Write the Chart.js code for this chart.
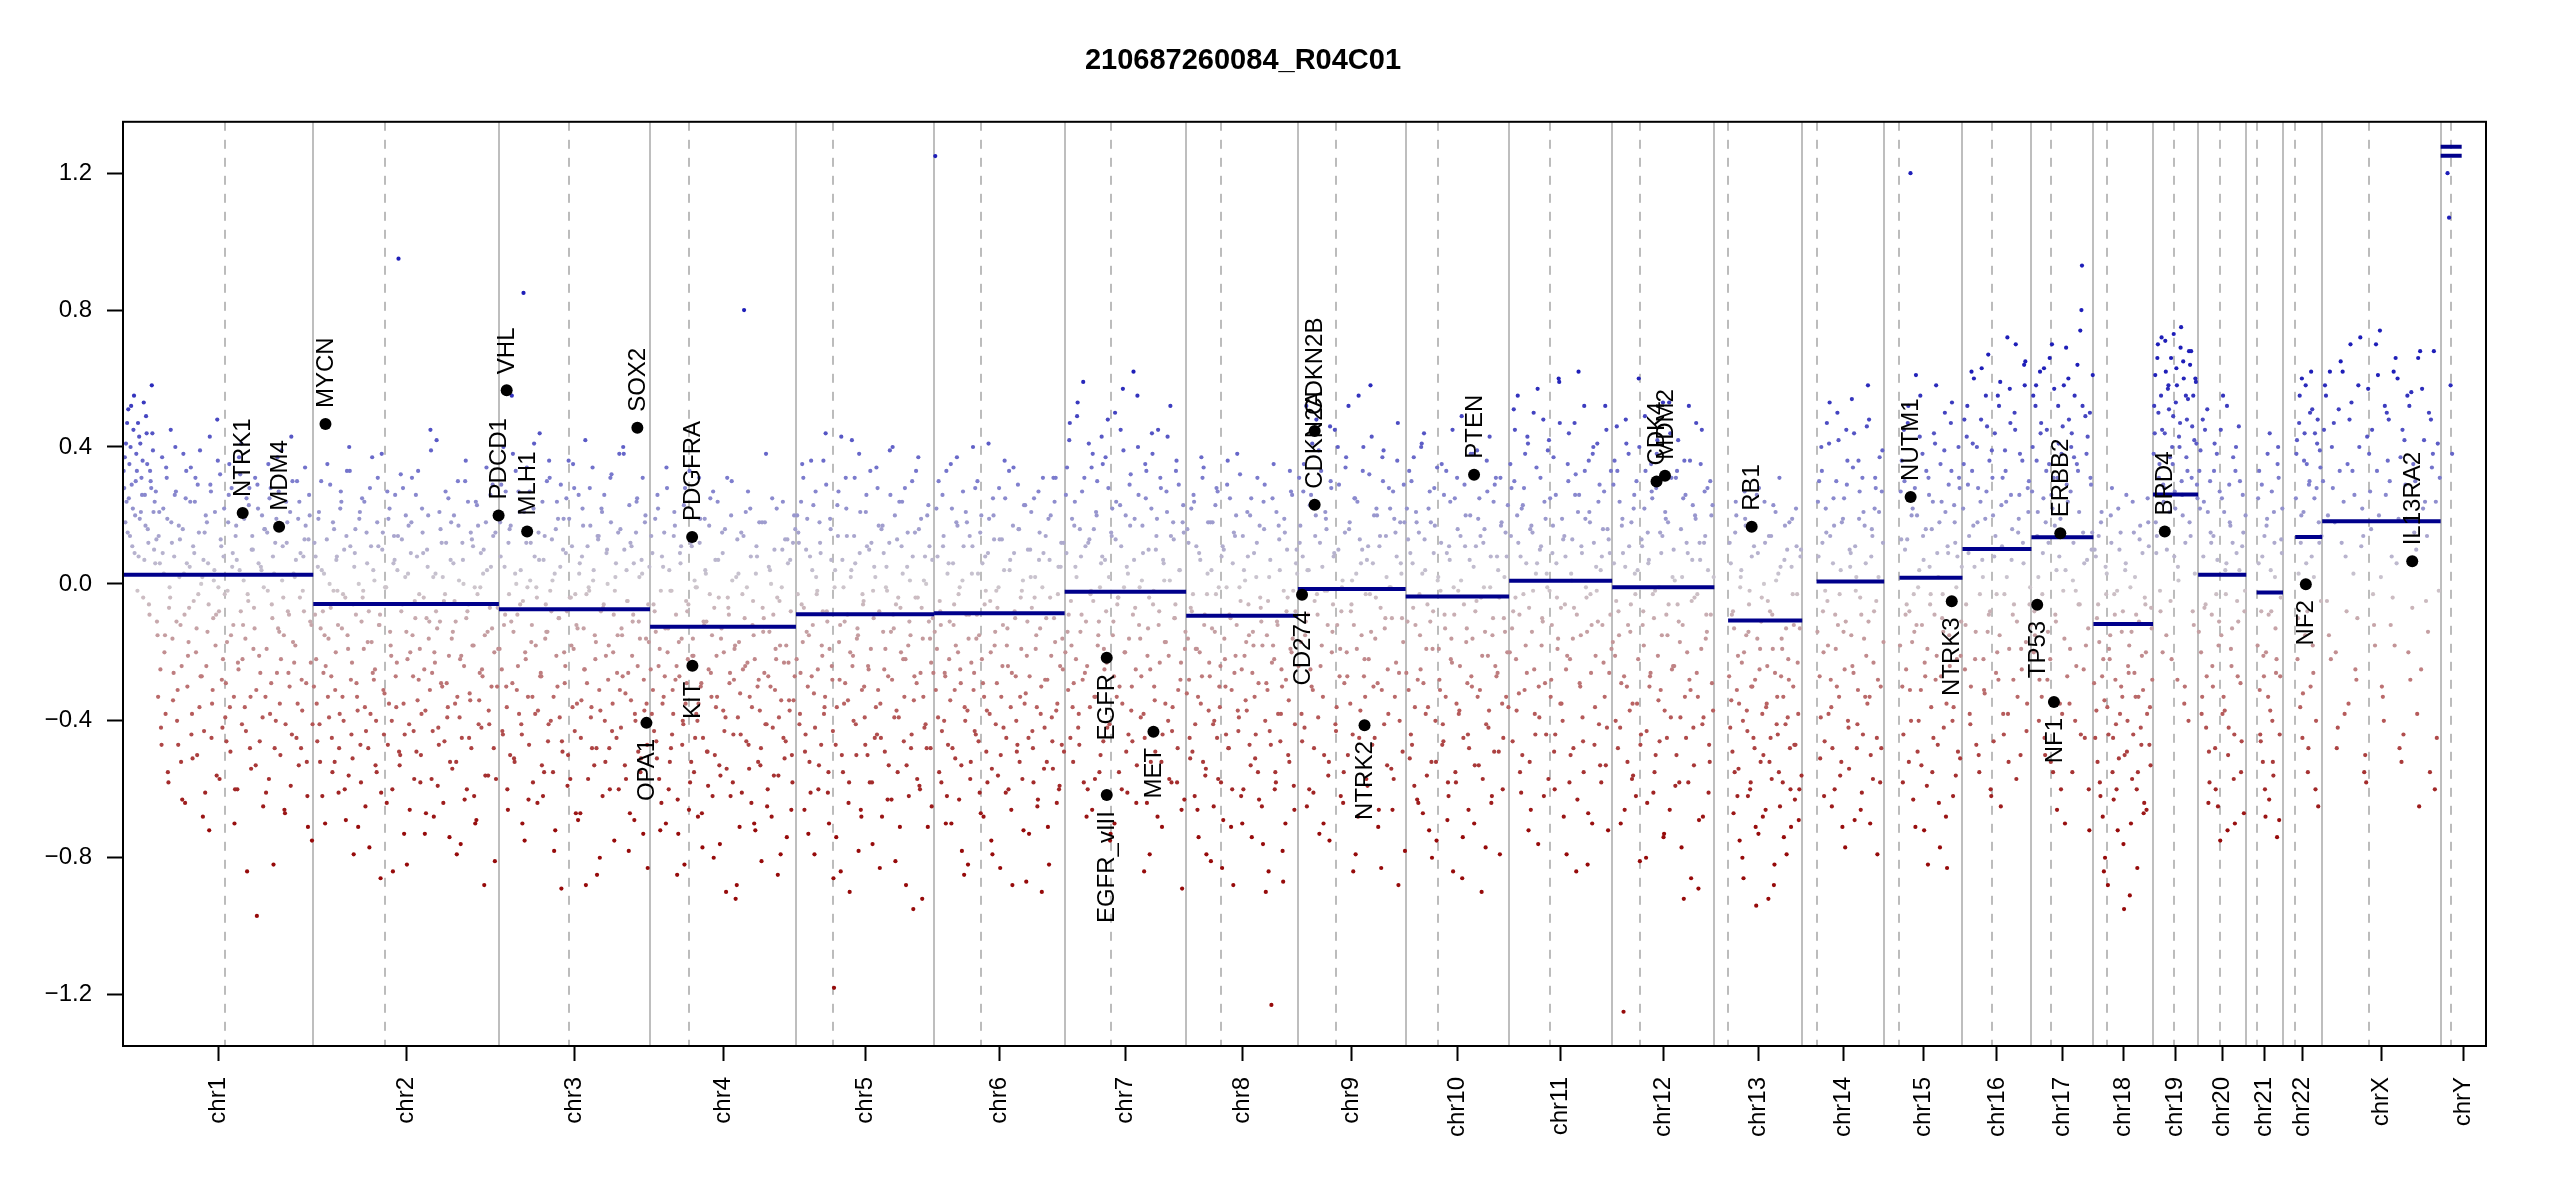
<!DOCTYPE html>
<html>
<head>
<meta charset="utf-8">
<title>210687260084_R04C01</title>
<script src="https://cdn.jsdelivr.net/npm/chart.js@4.4.1/dist/chart.umd.min.js"></script>
<style>
html,body{margin:0;padding:0;background:#fff;}
#wrap{width:2550px;height:1200px;}
</style>
</head>
<body>
<div id="wrap"><canvas id="c" width="2550" height="1200"></canvas></div>
<script>
// ---------- DATA ----------
const chartTitle = '210687260084_R04C01';
const chromNames = ['chr1','chr2','chr3','chr4','chr5','chr6','chr7','chr8','chr9','chr10','chr11','chr12','chr13','chr14','chr15','chr16','chr17','chr18','chr19','chr20','chr21','chr22','chrX','chrY'];
const chromLengths = [249.25,243.20,198.02,191.15,180.92,171.12,159.14,146.36,141.21,135.53,135.01,133.85,115.17,107.35,102.53,90.35,81.20,78.08,59.13,63.03,48.13,51.30,155.27,59.37]; // Mb
const centromeres = [133.5,93.8,92.0,51.0,48.5,61.0,60.4,46.1,49.5,41.8,54.0,36.8,18.0,18.7,20.0,38.3,25.3,18.0,27.9,29.1,13.6,16.0,61.2,13.2]; // Mb
const yTickValues = [-1.2,-0.8,-0.4,0.0,0.4,0.8,1.2];

// segments: chromosome index, start Mb, end Mb, log2 value
const segChrom = [0,1,2,3,4,5,6,7,8,9,10,11,12,13,14,15,16,17,18,19,20,21,22,23,23];
const segStart = [0,0,0,0,0,0,0,0,0,0,0,0,18.0,18.7,20.0,0,0,0,0,0,13.6,16.0,0,0,0];
const segEnd   = [249.25,243.20,198.02,191.15,180.92,171.12,159.14,146.36,141.21,135.53,135.01,133.85,115.17,107.35,102.53,90.35,81.20,78.08,59.13,63.03,48.13,51.30,155.27,27.5,27.5];
const segValue = [0.027,-0.059,-0.074,-0.125,-0.089,-0.086,-0.023,-0.093,-0.015,-0.037,0.009,-0.010,-0.107,0.007,0.018,0.102,0.136,-0.117,0.261,0.027,-0.025,0.137,0.183,1.277,1.251];

// genes of interest
const geneNames = ['NTRK1','MDM4','MYCN','PDCD1','VHL','MLH1','SOX2','OPA1','PDGFRA','KIT','EGFR','EGFR_vIII','MET','CD274','CDKN2A','CDKN2B','NTRK2','PTEN','CDK4','MDM2','RB1','NUTM1','NTRK3','TP53','NF1','ERBB2','BRD4','NF2','IL13RA2'];
const geneChrom = [0,0,1,1,2,2,2,2,3,3,6,6,6,8,8,8,8,9,11,11,12,14,14,16,16,16,18,21,22];
const genePos = [156.8,204.5,16.0,242.8,10.2,37.0,181.4,193.3,55.1,55.5,55.1,55.1,116.3,5.45,21.97,22.0,87.3,89.6,58.1,69.2,48.9,34.6,88.5,7.57,29.5,37.8,15.4,29.9,118.0];
const geneValue = [0.207,0.167,0.467,0.200,0.566,0.153,0.456,-0.406,0.137,-0.239,-0.216,-0.617,-0.432,-0.032,0.231,0.447,-0.413,0.319,0.299,0.316,0.167,0.254,-0.051,-0.061,-0.345,0.148,0.153,-0.001,0.066];

// bins: covered range per chromosome (Mb) and bin values (log2 ratio x100), in order along the chromosome
const binStart = [0.5,0.5,0.5,0.5,0.5,0.5,0.5,0.5,0.5,0.5,0.5,0.5,19.0,19.5,20.5,0.5,0.5,0.5,0.5,0.5,14.5,16.5,0.5,8.0];
const binEnd   = [248.7,242.7,197.5,190.6,180.4,170.6,158.6,145.8,140.7,135.0,134.5,133.3,114.6,106.8,102.0,89.8,80.7,77.5,58.6,62.5,47.6,50.8,154.7,16.0];
// first pass of bins
const binsChr1 = [28,41,15,35,52,22,9,38,47,19,31,-4,26,44,12,33,58,21,6,-11,14,-25,37,3,-38,19,-7,45,-16,8,27,-31,2,-52,16,-9,33,-21,5,-44,11,24,-13,-3,39,-27,7,-61,18,-6,29,-35,1,-18,48,-8,13,-42,22,-29,-2,35,-15,9,-70,17,-23,4,41,-12,-36,25,-5,-48,10,-19,31,-97,6,-26,20,-1,-33,15,-57,28,-10,3,-40,37,-14,-22,11,-66,24,-8,-30,43,-17,2,-45,19,-4,-28,8,34,-52,13,-11,-75];
const binsChr2 = [12,-22,5,-41,30,-8,-15,46,-33,0,-27,18,-52,7,-12,-38,24,-3,-60,14,-19,33,-44,-6,9,-29,-71,21,-11,-2,-36,15,-48,28,-17,4,-25,-55,11,-9,38,-31,-1,-64,19,-14,-40,6,26,-23,95,-50,13,-35,2,-82,17,-20,31,-43,-10,8,-28,-58,22,-4,-37,10,-16,45,-26,-68,3,-13,-47,16,-30,-5,27,-39,-21,7,-54,20,-11,-33,1,-76,12,-24,36,-8,-45,15,-18,-62,24,-3,-34,9,-27,-88,18,-14,-41,5,29,-20,-57,-7];
const binsChr3 = [18,-25,40,-9,-36,12,-50,55,-14,3,-31,27,-6,-44,85,-20,34,-63,1,-12,22,-38,-4,15,-27,-53,7,-16,30,-41,-2,13,-33,-72,24,-10,5,-46,19,-24,-8,36,-57,11,-19,-3,-35,26,-67,8,-13,42,-29,-1,17,-48,4,-22,-85,14,-37,21,-6,-52,10,-18,31,-43,-9,2,-26,-60,16,-15,38,-32,-5,-78,12,-21,6,-40,25,-11,-55,3,-28,20,-47,-17];
const binsChr4 = [14,-31,-8,-46,22,-19,-64,5,-27,34,-13,-52,-2,-38,17,-24,-73,9,-16,-41,28,-29,-6,-58,11,-21,-45,-1,-35,19,-67,-11,4,-49,-25,25,-15,-80,7,-33,-4,-56,15,-20,-39,31,-9,-62,1,-28,-92,13,-17,-44,-3,80,21,-23,-54,8,-12,-70,3,-30,18,-48,-7,-26,38,-60,-14,0,-42,10,-22,-85,-5,-34,24,-51,-18,6,-37,-66,12,-27];
const binsChr5 = [20,12,-26,35,-7,-44,19,-15,-61,4,-32,27,-2,-53,9,-21,-38,44,-11,-70,16,-28,-118,-47,23,-17,-84,7,-35,31,-9,-58,2,-24,14,-41,-13,38,-66,-3,-30,21,-50,10,-19,-76,5,-36,28,-8,-45,17,-25,-1,-63,12,-14,40,-39,-6,-55,24,-20,3,-33,-88,15,-11,-48,8,-27,33,-4,-59,19,-16,-42,0,-71,11,-23,-10];
const binsChr6 = [125,-19,30,-8,-43,14,-27,-62,6,-34,22,-12,-51,37,-3,-25,-78,11,-40,18,-16,-57,3,-31,28,-9,-46,15,-22,-68,8,-37,41,-5,-54,20,-14,-29,-1,-83,13,-42,25,-18,-60,7,-26,34,-10,-49,16,-33,-2,-72,23,-21,-45,10,-7,-58,2,-36,27,-13,-90,9,-28,-52,19,-4,-39,31,-17,-64,5,-24,-47,12];
const binsChr7 = [26,-14,42,-5,-36,17,-22,53,-47,8,-28,31,-11,-60,13,-2,38,-33,21,-18,-55,6,35,-25,-8,48,-41,15,-15,-70,24,-4,-30,11,57,-20,-49,3,29,-37,-9,19,-64,40,-1,-27,9,-45,33,-13,-79,22,-6,-34,14,45,-23,-52,7,-17,27,-40,1,-58,18,-10,36,-31,4,-66,23,-19];
const binsChr8 = [16,-28,-7,-49,24,-19,-66,9,-35,31,-12,-54,3,-23,-81,18,-40,-3,27,-30,-58,11,-16,-44,36,-9,-71,6,-26,20,-37,-1,-62,14,-21,-17,8,-47,25,-14,-33,2,-55,17,-11,-76,29,-29,-5,-43,-123,-18,-60,21,-38,4,-25,-87,15,-8,-50,33,-20,-2,-41,10];
const binsChr9 = [31,-17,8,-42,52,-9,23,-30,-61,14,-3,39,-24,5,-50,19,-12,-75,28,-6,45,-36,10,-19,-1,-55,34,-27,16,-8,-44,25,3,-68,13,-15,40,-33,7,-22,58,-47,20,-4,-29,11,-83,30,-13,2,-38,22,-10,-57,15,36,-26,6,-49,18];
const binsChr10 = [22,-31,9,-47,37,-12,-63,15,-25,3,44,-38,-6,-72,18,-19,28,-52,1,-28,12,-41,-9,33,-58,7,-16,-84,25,-35,-2,-24,49,-45,11,-13,-66,20,-30,5,-8,39,-53,14,-21,-1,-77,27,-37,8,-15,-49,31,-26,-4,17,-60,2,-33,23];
const binsChr11 = [35,-13,51,-4,20,-32,8,-50,28,-18,43,-7,-66,15,-25,3,57,-39,11,-11,24,-44,39,-2,-28,17,-60,6,-16,47,-35,13,-6,-79,30,-22,1,-48,26,-9,62,-30,9,-55,19,-14,36,-3,-70,12,-21,41,-41,4,-12,27,-53,16,-26,33];
const binsChr12 = [29,-21,46,-8,-42,17,-125,5,-30,38,-14,-57,22,-3,-35,60,-47,11,-18,33,-64,7,-26,25,-10,-50,42,-1,-31,14,-73,19,-15,53,-39,2,-24,31,-6,-58,16,-12,36,-45,9,-28,-86,23,-4,47,-33,12,-19,-68,27,-9,4,-52,20,-37];
const binsChr13 = [12,-34,-8,-55,20,-21,-75,4,-40,27,-15,-62,-2,-30,16,-48,-94,9,-25,-11,-68,24,-36,-5,-52,14,-19,-82,1,-44,31,-27,-58,7,-13,-39,18,-71,-3,-47,22,-23,-60,10];
const binsChr14 = [24,-27,40,-8,-46,15,-18,53,-36,6,-60,30,-12,-3,-52,19,-25,45,-40,10,-15,34,-69,2,-31,27,-9,-44,17,-21,58,-33,8,-57,22,-5,-28,37,-48,12];
const binsChr15 = [27,-30,45,-9,13,-52,120,-17,-3,-71,20,-40,55,-12,7,-27,-59,31,-6,16,-45,41,-21,2,-77,24,-14,50,-35,9,-24,33,-62,18,-1,-49,28,-11];
const binsChr16 = [35,-12,52,14,-30,41,5,-47,28,-3,63,-22,19,46,-9,-60,31,8,-26,55,-15,23,-38,39,2,-52,47,16,-6,70,-33,26,-19,12,58,-43,21,-1];
const binsChr17 = [40,-8,58,21,-28,47,9,-45,33,-14,66,26,-55,17,4,52,-35,38,-2,-70,29,60,-19,44,12,-40,35,-6,74,93,-25,49,7,-60,31,15];
const binsChr18 = [10,-37,-6,-58,21,-22,-80,3,-44,-15,28,-63,-28,-2,-51,15,-33,-95,6,-40,-18,-70,24,-26,-9,-55,13,-47,-31,-4,-66,18,-36,-13];
const binsChr19 = [52,18,66,31,-8,45,24,71,10,58,37,-22,49,27,63,5,40,75,20,-35,55,33,68,14,46,-12,60,29];
const binsChr20 = [33,-20,48,-7,-42,21,-58,12,-30,41,-3,-65,27,-15,55,-37,6,-50,18,-24,37,-70,9,-11,30,-46,15,-2];
const binsChr21 = [25,-31,-8,-52,14,-20,38,-63,4,-40,21,-13,-74,31,-27,9];
const binsChr22 = [38,-10,55,20,-32,44,6,-55,30,62,-18,25,-40,48,12,-5];
const binsChrX = [45,-5,62,28,-20,51,12,-38,35,70,3,-28,40,22,-50,57,16,-12,33,74,-33,26,48,8,-18,60,37,-44,19,52,-7,30,66,-25,42,14,-55,38,24,-2];
const binsChrY = [120,107,58,38];
// second pass of bins
const binsChr1b = [33,18,47,25,40,11,55,30,-2,43,21,36,7,49,16,-9,28,39,24,13,-33,6,-47,22,-15,31,-58,-4,12,-26,40,-40,17,-12,-63,3,25,-30,-7,34,-51,9,-20,29,-36,0,-68,15,-24,6,43,-45,-10,21,-56,-1,32,-28,8,-39,-17,26,-49,5,-33,14,-60,37,-8,-22,19,-43,-3,28,-54,10,-13,-31,22,-46,4,-65,16,-19,35,-38,-6,-82,12,-26,27,-50,1,-15,-41,18,-9,-59,30,-23,7,-35,24,-48,-2,13,-29,-71,20,-12];
const binsChr2b = [-30,8,-46,21,-13,-62,3,-24,35,-39,-7,-55,16,-20,-2,-48,27,-33,10,-69,-15,40,-28,-51,5,-9,-37,19,-58,-4,24,-43,-17,-77,11,-26,1,-40,31,-12,-61,15,-32,-1,-47,22,-21,-84,7,-36,14,-53,-8,28,-44,-14,3,-66,18,-27,-5,-49,33,-19,-38,9,-73,-10,20,-31,-57,2,-23,42,-42,-11,12,-64,-3,-29,25,-52,-16,6,-35,-79,17,-22,-45,0,30,-60,-6,-34,13,-18,-70,23,-41,-1,-25,10,-56,4,-37,26,-13,-48,15,-30];
const binsChr3b = [-19,29,-44,5,-30,-66,16,-11,38,-52,0,-24,21,-41,-5,-75,12,-33,27,-17,-58,8,-1,-37,44,-27,-62,14,-14,-46,31,-8,-55,3,-21,19,-39,-89,10,-29,25,-50,-4,-18,35,-43,-12,-69,6,-34,17,-25,-3,-57,28,-36,1,-15,-48,13,-80,22,-7,-40,9,-28,-60,32,-20,-2,-45,15,-31,-13,40,-53,4,-26,-67,11,-9,-38,24,-49,-16,7,-73,18,-35,-6];
const binsChr4b = [-25,9,-43,-14,26,-57,-2,-35,15,-70,-20,4,-48,-31,21,-9,-63,-27,11,-40,-82,-5,-22,33,-52,-16,1,-38,-68,12,-29,-45,19,-11,-59,-3,-33,27,-50,-21,7,-76,-13,-37,16,-54,-7,-26,30,-44,-18,-88,3,-32,-61,14,-24,-1,-47,22,-36,-15,-72,8,-28,-53,18,-10,-41,-65,5,-30,25,-56,-19,-4,-39,-79,10,-23,-46,13,-34,-8,-58,20];
const binsChr5b = [-22,15,-38,-6,31,-49,-14,-73,8,-27,23,-42,-3,-60,12,-18,36,-33,-8,-55,19,-24,-86,4,-36,27,-12,-50,-1,-29,14,-64,-20,42,-40,6,-16,-78,21,-31,-5,-47,11,-25,33,-58,-10,2,-44,17,-35,-68,9,-19,-2,-53,26,-28,-13,-81,13,-39,-7,24,-46,-22,5,-62,-15,30,-34,-4,-57,16,-26,-92,1,-41,20,-11,-48,7];
const binsChr6b = [-14,22,-39,-5,-58,11,-26,33,-47,-11,-70,6,-31,18,-20,-1,-53,27,-36,-9,-82,14,-23,40,-43,-16,3,-61,20,-29,-6,-49,9,-38,-75,25,-18,-2,-56,13,-33,-12,36,-45,-24,4,-66,17,-8,-40,29,-52,-19,1,-35,-87,10,-27,21,-48,-4,-15,-63,15,-30,31,-42,-10,-71,7,-21,-54,24,-37,-3,-59,12,-25];
const binsChr7b = [-20,34,-9,-45,19,-29,5,49,-38,-14,27,-58,11,-24,41,-3,-66,16,-33,30,-11,-50,8,-19,37,-42,2,-73,22,-27,13,-6,-55,45,-35,-1,20,-61,-16,32,-46,7,-25,55,-12,-39,17,-84,25,-21,-4,-52,38,-30,10,-68,-8,28,-44,1,-17,43,-57,14,-36,-10,33,-48,4,-23,18,-63];
const binsChr8b = [-32,12,-51,-8,26,-41,-19,-74,7,-27,34,-56,-3,-37,18,-13,-65,23,-45,-1,-24,-83,10,-30,29,-48,-10,-60,15,-21,38,-39,-5,-70,4,-34,21,-15,-53,-26,9,-44,31,-63,-7,-18,16,-90,-31,2,-47,25,-22,-58,-12,13,-38,-78,19,-28,-4,-52,27,-16,-66,6];
const binsChr9b = [-24,17,-46,35,-11,4,-60,26,-31,-5,48,-39,12,-18,-70,21,-2,-52,30,-14,9,-43,40,-27,-8,-64,15,-20,52,-35,1,-12,-79,24,-45,6,33,-22,-57,11,-3,43,-30,-16,20,-66,-7,37,-41,14,-25,-1,-54,27,-33,8,-88,18,-10,29];
const binsChr10b = [-26,13,-51,30,-7,-36,18,-64,-15,41,-29,4,-56,22,-11,-80,9,-40,34,-19,-2,-47,26,-33,-69,11,-22,45,-9,-58,16,-37,1,-74,29,-17,-44,7,-27,38,-53,-5,19,-31,-90,12,-14,36,-42,-1,-62,24,-24,8,-49,31,-35,-10,15,-20];
const binsChr11b = [-20,28,-8,45,-37,12,-55,22,-3,38,-26,-72,16,-14,50,-44,6,-30,31,-10,-62,19,-1,42,-33,9,-49,26,-19,59,-7,-40,14,-25,35,-58,3,-16,47,-84,21,-29,11,-46,33,-4,-67,18,-12,40,-36,-2,24,-53,8,-23,52,-42,13,-9];
const binsChr12b = [-17,36,-5,-48,24,-29,9,-66,41,-12,-37,18,-56,3,30,-22,-81,13,-8,49,-43,6,-27,27,-61,-2,38,-34,15,-15,-74,21,-45,-6,44,-25,10,-59,33,-11,-39,2,-92,26,-20,52,-31,7,-53,19,-3,-69,35,-41,12,-16,28,-47,-9,23];
const binsChr13b = [-27,6,-49,-13,24,-62,-35,2,-80,-20,17,-43,-6,-58,-30,11,-71,-16,28,-52,-38,0,-66,-24,14,-45,-9,-88,21,-33,-55,5,-19,-74,-41,10,-28,-60,19,-12,-47,-3,-69,8];
const binsChr14b = [-14,30,-39,12,-62,22,-5,41,-28,-48,17,-19,50,-33,4,-71,25,-11,36,-54,9,-24,44,-2,-41,19,-66,31,-16,6,-35,48,-50,14,-8,28,-79,21,-30,39];
const binsChr15b = [-18,36,-44,10,-6,52,-31,20,-63,28,-12,-1,43,-53,14,-23,33,-82,5,-36,24,-9,58,-47,18,-27,-3,39,-68,11,-15,47,-40,23,-56,8,31,-21];
const binsChr16b = [22,-25,43,9,-41,33,60,-14,18,-55,48,2,-32,27,67,-8,39,-46,14,-20,52,-65,31,-3,24,-38,57,7,-28,45,-11,19,-50,36,64,-17,28,-6];
const binsChr17b = [27,-20,52,14,-40,44,-3,63,18,-28,35,-52,22,57,-11,31,8,-60,46,-16,69,24,-35,40,1,55,-24,33,-6,80,15,-45,38,-13,50,10];
const binsChr18b = [-29,8,-52,-17,18,-68,-34,-3,-88,-22,12,-45,-9,-60,22,-38,-14,-76,4,-49,-26,-1,-57,15,-33,-83,-11,-42,9,-64,-20,25,-47,-7];
const binsChr19b = [38,61,14,50,-2,72,29,44,-15,57,21,66,35,8,53,-28,43,69,26,60,12,48,-40,64,31,55,3,41];
const binsChr20b = [-14,39,-33,24,-6,51,-49,15,-24,33,-60,7,-11,45,-38,21,-3,-72,29,-19,12,-44,40,-27,4,-55,26,-8];
const binsChr21b = [-18,33,-46,8,-27,-68,19,-9,-37,27,-56,2,-22,40,-44,13];
const binsChr22b = [25,-22,47,12,-45,36,58,-8,29,-30,51,2,-60,41,18,34];
const binsChrXb = [30,55,-15,40,18,-42,65,24,-8,48,33,-25,58,11,-55,43,27,-3,70,20,-30,52,36,-12,62,6,-48,45,29,-20,56,15,-38,68,22,-5,50,34,-60,41];
const binsChrYb = [];
// third pass of bins
const binsChr1c = [37,24,51,14,29,45,20,33,8,41,26,53,17,35,-6,30,44,10,27,-15,21,-42,9,-20,34,-55,-1,18,-34,26,-11,-47,13,-24,38,-64,6,-17,24,-38,-5,31,-50,15,-27,2,-43,20,-14,-72,27,-31,4,-9,36,-57,11,-22,-3,-46,18,-36,28,-12,-60,7,-25,32,-41,1,-16,-84,23,-33,14,-7,-53,29,-21,5,-39,16,-61,-2,25,-29,8,-48,19,-13,-35,39,-4,-67,12,-26,21,-44,3,-18,30,-53,9,-37,-8,17,-62,26,-23,-41];
const binsChr2c = [-9,-35,19,-52,4,-26,-70,13,-16,29,-45,-2,-31,8,-61,22,-13,-40,-4,33,-56,11,-23,-79,16,-33,0,-47,25,-19,-65,6,-8,-38,37,-28,-53,18,-12,-86,10,-44,-1,27,-35,-18,-60,14,-27,4,-49,32,-6,-73,20,-22,-41,9,-15,-57,26,-34,-3,-50,15,-25,-67,5,-11,39,-43,-20,-8,-59,21,-29,2,-46,12,-36,-74,18,-14,-5,-52,30,-39,-21,7,-63,-10,24,-32,-48,11,-1,-69,17,-26,-42,3,-15,34,-56,-7,-30,14,-81,20,-19];
const binsChr3c = [8,-43,-12,27,-60,-3,17,-29,-51,33,-9,-38,4,-70,21,-22,-1,-47,12,-33,41,-18,-64,7,-26,24,-55,-6,-14,36,-40,1,-78,16,-30,-10,29,-49,-20,9,-59,19,-4,-36,28,-67,-13,3,-45,22,-25,-88,11,-2,-39,34,-53,-17,14,-31,-8,-62,26,-21,0,-48,18,-35,-75,6,-15,38,-42,-27,10,-57,-5,23,-34,-11,-69,15,-24,2,-51,31,-37,-16,-83,5];
const binsChr4c = [-38,-6,19,-51,-24,-72,8,-33,-13,28,-60,-2,-44,14,-28,-85,-17,6,-47,23,-35,-8,-66,12,-21,-55,-1,-40,31,-30,-77,-12,3,-49,17,-26,-62,-7,-36,24,-53,-16,9,-43,-90,-4,-29,20,-58,-19,2,-39,-71,15,-25,-10,-46,27,-33,-64,-5,-22,11,-52,-37,-81,-14,18,-41,-27,4,-68,-9,-31,22,-56,-18,-1,-45,13,-74,-23,7,-50,-34,16];
const binsChr5c = [-3,-41,24,-17,-66,10,-30,-52,36,-12,-79,2,-25,18,-47,-8,-36,29,-61,-19,7,-43,-1,-74,14,-28,43,-55,-11,22,-34,-90,4,-21,31,-50,-15,9,-68,-6,-39,26,-24,-58,12,-2,-45,34,-31,-83,16,-14,-49,5,-27,39,-63,-9,20,-37,-4,-71,11,-22,28,-53,-18,1,-44,-95,15,-29,37,-60,-7,-33,8,-48,23,-16,-65,-26];
const binsChr6c = [-31,8,-55,-12,26,-40,-70,3,-22,35,-48,-6,-18,17,-63,-29,1,-85,21,-37,-9,-52,11,-26,-44,30,-15,-67,6,-33,-2,-58,19,-20,-79,13,-41,-7,28,-50,-24,4,-61,-13,33,-36,-88,9,-27,-47,16,-4,-57,23,-32,-11,-73,2,-43,25,-19,-65,7,-38,-1,-54,14,-28,-82,20,-46,-10,31,-35,-60,5,-16,-49];
const binsChr7c = [9,-31,47,-18,-52,24,2,-42,16,-9,59,-26,-68,12,-36,34,-5,-57,20,-15,-1,43,-46,7,-23,28,-75,14,-11,50,-33,-4,23,-60,39,-20,5,-44,17,-30,62,-7,-53,26,-16,1,-38,35,-64,10,-25,44,-2,-49,19,-12,31,-71,6,-35,21,-21,52,-43,13,-6,-58,29,-28,-89,15,-14];
const binsChr8c = [-16,-45,22,-3,-62,11,-33,-20,37,-52,-9,-79,18,-27,4,-41,-14,28,-57,-36,8,-69,-22,-1,-48,25,-31,-88,14,-12,-43,32,-25,-60,1,-37,-6,20,-74,-18,-51,12,-29,-4,-65,24,-40,-15,-84,7,-23,35,-55,-11,17,-46,-30,-2,-70,10,-34,-19,26,-59,-8,3];
const binsChr9c = [12,-38,27,-15,-65,4,-25,41,-48,20,-9,-73,33,-33,-2,16,-56,46,-20,8,-41,-12,29,-62,1,-29,37,-50,18,-6,-84,25,-19,55,-37,10,-27,-3,-59,32,-14,6,-45,22,-71,14,-31,39,-10,-53,28,-1,-66,19,-23,47,-40,3,-17,-78];
const binsChr10c = [-11,33,-44,6,-59,21,-28,-3,40,-67,13,-19,-36,27,-52,-8,17,-75,2,-31,35,-46,-13,9,-62,24,-23,-1,-55,31,-38,14,-86,-6,20,-29,-48,38,-16,-70,11,-33,25,-4,-57,16,-41,-21,43,-64,-10,29,-27,4,-79,18,-45,-14,8,-36];
const binsChr11c = [14,-46,30,-22,55,-9,-61,23,-31,6,41,-52,17,-2,-38,34,-76,10,-18,48,-29,3,-57,25,-12,37,-44,-4,60,-35,19,-68,8,-21,44,-50,13,-7,32,-63,26,-15,-39,52,-1,-82,21,-26,38,-47,5,-11,29,-58,16,-33,45,-72,9,-19];
const binsChr12c = [6,-40,33,-15,-70,19,-27,48,-52,11,-6,-35,26,-62,4,40,-44,-12,22,-80,15,-30,35,-3,-55,28,-21,-46,9,53,-37,-9,18,-66,31,-24,1,-50,42,-17,-77,25,-33,12,-58,36,-5,-42,20,-26,-89,7,45,-39,14,-14,-61,30,-29,2];
const binsChr13c = [-42,-9,-67,15,-31,-54,-1,-23,-86,19,-37,-14,-60,8,-45,-28,26,-73,-19,-4,-50,12,-35,-92,-8,-57,23,-26,-41,3,-65,-16,-33,17,-79,-22,-48,5,-30,-63,11,-38,-13,-56];
const binsChr14c = [8,-51,33,-20,-2,47,-38,14,-65,25,-9,-30,42,-56,18,-14,-77,29,-42,5,54,-26,11,-48,36,-4,-61,21,-33,46,-11,-70,16,-23,31,-45,2,-58,27,-17];
const binsChr15c = [13,-58,30,-25,47,-8,-40,22,-14,61,-49,4,-31,38,-72,16,-19,26,-3,-55,44,-28,9,-64,35,-10,-42,21,-83,29,-6,53,-36,12,-22,40,-51,5];
const binsChr16c = [48,-6,29,-38,62,17,-22,40,-50,24,7,-31,55,-14,36,-62,20,44,-3,-28,59,11,-44,33,72,-19,26,-9,50,-57,15,38,-25,6,65,-35,30,-12];
const binsChr17c = [55,-15,36,2,62,-33,25,-50,45,12,-22,70,31,-9,-66,41,19,-38,58,4,-27,48,27,-55,37,-2,64,21,-44,52,6,-18,43,-72,29,61];
const binsChr18c = [-45,-10,14,-62,-27,-84,5,-36,-19,20,-55,-3,-41,-72,10,-30,-8,-50,26,-24,-91,-14,-44,2,-60,-33,17,-21,-67,-6,-38,11,-53,-28];
const binsChr19c = [44,9,70,35,55,-20,28,62,16,51,-5,40,73,22,58,1,47,30,65,-30,37,54,18,68,-8,42,59,25];
const binsChr20c = [22,-38,8,45,-27,-64,30,-9,14,-48,38,-18,-75,25,-33,4,52,-42,17,-13,-57,33,-5,46,-29,11,-67,20];
const binsChr21c = [6,-44,29,-21,-60,17,-33,44,-8,-52,12,-26,35,-69,-4,22];
const binsChr22c = [42,3,-36,60,21,-15,35,-48,50,8,-26,44,28,-65,39,14];
const binsChrXc = [58,20,-22,47,-48,33,62,8,-35,53,26,-10,72,14,-58,38,45,-18,61,2,-40,50,30,-4,66,19,-52,42,55,-28,35,10,-65,57,24,-14,48,68,-45,31];
const binsChrYc = [];
const binValuesA = [binsChr1,binsChr2,binsChr3,binsChr4,binsChr5,binsChr6,binsChr7,binsChr8,binsChr9,binsChr10,binsChr11,binsChr12,binsChr13,binsChr14,binsChr15,binsChr16,binsChr17,binsChr18,binsChr19,binsChr20,binsChr21,binsChr22,binsChrX,binsChrY];
const binValuesB = [binsChr1b,binsChr2b,binsChr3b,binsChr4b,binsChr5b,binsChr6b,binsChr7b,binsChr8b,binsChr9b,binsChr10b,binsChr11b,binsChr12b,binsChr13b,binsChr14b,binsChr15b,binsChr16b,binsChr17b,binsChr18b,binsChr19b,binsChr20b,binsChr21b,binsChr22b,binsChrXb,binsChrYb];
const binValuesC = [binsChr1c,binsChr2c,binsChr3c,binsChr4c,binsChr5c,binsChr6c,binsChr7c,binsChr8c,binsChr9c,binsChr10c,binsChr11c,binsChr12c,binsChr13c,binsChr14c,binsChr15c,binsChr16c,binsChr17c,binsChr18c,binsChr19c,binsChr20c,binsChr21c,binsChr22c,binsChrXc,binsChrYc];

// ---------- DERIVED (genome coordinates) ----------
const chromStarts = [];
let acc = 0;
chromLengths.forEach(l => { chromStarts.push(acc); acc += l; });
const genomeLength = acc;
const chromMids = chromLengths.map((l, i) => chromStarts[i] + l / 2);

function binColor(v) {
  const stops = [[-0.72,[150,10,10]],[-0.36,[184,96,96]],[0,[206,200,206]],[0.3,[126,126,206]],[0.62,[30,30,184]]];
  if (v <= stops[0][0]) return 'rgb(' + stops[0][1].join(',') + ')';
  if (v >= stops[stops.length-1][0]) return 'rgb(' + stops[stops.length-1][1].join(',') + ')';
  for (let k = 0; k < stops.length - 1; k++) {
    const a = stops[k], b = stops[k+1];
    if (v >= a[0] && v <= b[0]) {
      const t = (v - a[0]) / (b[0] - a[0]);
      const c = a[1].map((ca, j) => Math.round(ca + (b[1][j] - ca) * t));
      return 'rgb(' + c.join(',') + ')';
    }
  }
  return '#ccc';
}

const binPoints = [];
const binColors = [];
function addBins(sets, offset) {
  sets.forEach((vals, ci) => {
    const s = binStart[ci], e = binEnd[ci], n = vals.length;
    vals.forEach((v, i) => {
      const y = v / 100;
      binPoints.push({x: chromStarts[ci] + s + (i + offset) * (e - s) / n, y: y});
      binColors.push(binColor(y));
    });
  });
}
addBins(binValuesA, 0.5);
addBins(binValuesB, 0.1667);
addBins(binValuesC, 0.8333);

const datasets = [];
datasets.push({
  label: 'genes',
  data: geneNames.map((g, i) => ({x: chromStarts[geneChrom[i]] + genePos[i], y: geneValue[i]})),
  pointRadius: 6, pointHoverRadius: 6, backgroundColor: '#000', borderWidth: 0, showLine: false, order: 0
});
segChrom.forEach((c, i) => {
  datasets.push({
    label: 'seg' + i,
    data: [{x: chromStarts[c] + segStart[i], y: segValue[i]}, {x: chromStarts[c] + segEnd[i], y: segValue[i]}],
    showLine: true, borderColor: '#00008B', borderWidth: 4, pointRadius: 0, borderCapStyle: 'butt', order: 1
  });
});
datasets.push({
  label: 'bins', data: binPoints, pointRadius: 2.1, pointHoverRadius: 2.1,
  pointBackgroundColor: binColors, pointBorderWidth: 0, showLine: false, order: 2
});

// ---------- PLUGINS ----------
const chromLinesPlugin = {
  id: 'chromLines',
  beforeDatasetsDraw(chart) {
    const {ctx, chartArea, scales} = chart;
    const x = scales.x;
    ctx.save();
    ctx.beginPath();
    ctx.rect(chartArea.left, chartArea.top, chartArea.right - chartArea.left, chartArea.bottom - chartArea.top);
    ctx.clip();
    ctx.lineWidth = 2;
    ctx.strokeStyle = '#bebebe';
    for (let i = 1; i < chromStarts.length; i++) {
      const px = Math.round(x.getPixelForValue(chromStarts[i]));
      ctx.beginPath(); ctx.moveTo(px, chartArea.top); ctx.lineTo(px, chartArea.bottom); ctx.stroke();
    }
    ctx.setLineDash([9, 9]);
    ctx.strokeStyle = '#bcbcbc';
    for (let i = 0; i < centromeres.length; i++) {
      const px = Math.round(x.getPixelForValue(chromStarts[i] + centromeres[i]));
      ctx.beginPath(); ctx.moveTo(px, chartArea.top); ctx.lineTo(px, chartArea.bottom); ctx.stroke();
    }
    ctx.restore();
  },
  afterDatasetsDraw(chart) {
    const {ctx, scales} = chart;
    ctx.save();
    ctx.fillStyle = '#000';
    ctx.font = "24px 'Liberation Sans', Arial, sans-serif";
    ctx.textBaseline = 'middle';
    geneNames.forEach((g, i) => {
      const px = scales.x.getPixelForValue(chromStarts[geneChrom[i]] + genePos[i]);
      const py = scales.y.getPixelForValue(geneValue[i]);
      ctx.save();
      ctx.translate(px, py);
      ctx.rotate(-Math.PI / 2);
      if (geneValue[i] >= 0) { ctx.textAlign = 'left'; ctx.fillText(g, 16, 1); }
      else { ctx.textAlign = 'right'; ctx.fillText(g, -16, 1); }
      ctx.restore();
    });
    ctx.restore();
  },
  afterDraw(chart) {
    const {ctx, chartArea} = chart;
    ctx.save();
    ctx.strokeStyle = '#000';
    ctx.lineWidth = 2;
    ctx.strokeRect(chartArea.left, chartArea.top, chartArea.right - chartArea.left, chartArea.bottom - chartArea.top);
    ctx.restore();
  }
};

Chart.defaults.font.family = "'Liberation Sans', Arial, sans-serif";
Chart.defaults.color = '#000';

new Chart(document.getElementById('c'), {
  type: 'scatter',
  data: {datasets: datasets},
  options: {
    responsive: false,
    devicePixelRatio: 1,
    animation: false,
    events: [],
    layout: {padding: {left: 0, right: 64, top: 0, bottom: 0}},
    plugins: {
      legend: {display: false},
      tooltip: {enabled: false},
      title: {
        display: true, text: chartTitle, color: '#000',
        font: {size: 29, weight: 'bold', family: "'Liberation Sans', Arial, sans-serif"},
        padding: {top: 44, bottom: 43}
      }
    },
    scales: {
      x: {
        type: 'linear', min: 0, max: genomeLength,
        afterBuildTicks: s => { s.ticks = chromMids.map(v => ({value: v})); },
        afterFit: s => { s.height = 154; },
        ticks: {
          autoSkip: false, minRotation: 90, maxRotation: 90, padding: 16,
          font: {size: 24}, color: '#000',
          callback: (v, i) => chromNames[i]
        },
        grid: {drawOnChartArea: false, drawTicks: true, tickLength: 15, tickColor: '#000', tickWidth: 2},
        border: {display: true, color: '#000', width: 2}
      },
      y: {
        type: 'linear', min: -1.35, max: 1.35,
        afterBuildTicks: s => { s.ticks = yTickValues.map(v => ({value: v})); },
        afterFit: s => { s.width = 123; },
        ticks: {
          padding: 15, font: {size: 24}, color: '#000',
          callback: v => (v < -1e-9 ? '\u2212' : '') + Math.abs(v).toFixed(1)
        },
        grid: {drawOnChartArea: false, drawTicks: true, tickLength: 16, tickColor: '#000', tickWidth: 2},
        border: {display: true, color: '#000', width: 2}
      }
    }
  },
  plugins: [chromLinesPlugin]
});
</script>
</body>
</html>
